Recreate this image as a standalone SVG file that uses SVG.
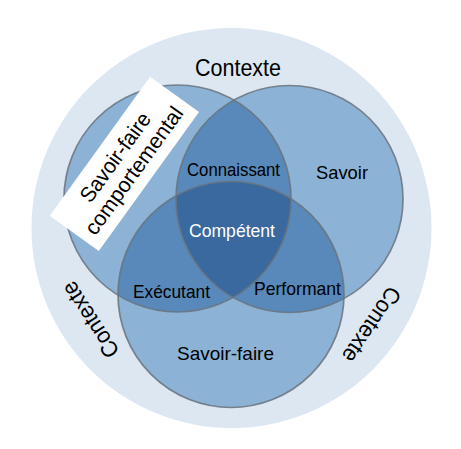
<svg xmlns="http://www.w3.org/2000/svg" width="461" height="449" viewBox="0 0 461 449">
  <style>
    text { font-family: "Liberation Sans", Arial, sans-serif; fill: #000; }
    .big { font-size: 23px; }
    .lbl { font-size: 19px; text-anchor: middle; }
    .ring { fill: none; stroke: #6a737d; stroke-opacity: 0.85; stroke-width: 1.7; }
  </style>
  <defs>
    <clipPath id="cA"><circle cx="177.5" cy="198.5" r="113.5"/></clipPath>
    <clipPath id="cB"><circle cx="289.5" cy="199" r="113.5"/></clipPath>
    <clipPath id="cC"><circle cx="231" cy="294.5" r="113"/></clipPath>
  </defs>

  <g id="contexte">
    <circle cx="231.5" cy="228" r="200" fill="#dce7f2"/>
    <text class="big" x="238" y="76" text-anchor="middle" textLength="86" lengthAdjust="spacingAndGlyphs">Contexte</text>
    <text class="big" text-anchor="middle" transform="translate(90,320) rotate(-123)" dy="0.36em" textLength="86" lengthAdjust="spacingAndGlyphs">Contexte</text>
    <text class="big" text-anchor="middle" transform="translate(372,325) rotate(124)" dy="0.36em" textLength="86" lengthAdjust="spacingAndGlyphs">Contexte</text>
  </g>

  <g id="fills">
    <circle cx="177.5" cy="198.5" r="113.5" fill="#8cb3d5"/>
    <circle cx="289.5" cy="199" r="113.5" fill="#8cb3d5"/>
    <circle cx="231" cy="294.5" r="113" fill="#8cb3d5"/>
    <circle cx="177.5" cy="198.5" r="113.5" fill="#5889ba" clip-path="url(#cB)"/>
    <circle cx="177.5" cy="198.5" r="113.5" fill="#5889ba" clip-path="url(#cC)"/>
    <circle cx="289.5" cy="199" r="113.5" fill="#5889ba" clip-path="url(#cC)"/>
    <g clip-path="url(#cC)">
      <circle cx="177.5" cy="198.5" r="113.5" fill="#39699f" clip-path="url(#cB)"/>
    </g>
  </g>

  <g id="savoir-faire-comportemental">
    <circle class="ring" cx="177.5" cy="198.5" r="113.5"/>
  </g>
  <g id="savoir">
    <circle class="ring" cx="289.5" cy="199" r="113.5"/>
    <text class="lbl" x="342" y="179" textLength="52" lengthAdjust="spacingAndGlyphs">Savoir</text>
  </g>
  <g id="savoir-faire">
    <circle class="ring" cx="231" cy="294.5" r="113"/>
    <text class="lbl" x="225.5" y="360" textLength="97" lengthAdjust="spacingAndGlyphs">Savoir-faire</text>
  </g>

  <g id="box">
    <g transform="translate(124.4,163.8) rotate(-54.2)">
      <rect x="-85.7" y="-30.2" width="171.4" height="60.4" fill="#ffffff"/>
      <text x="0" y="-4" text-anchor="middle" style="font-size:21.5px" textLength="105" lengthAdjust="spacingAndGlyphs">Savoir-faire</text>
      <text x="0" y="19" text-anchor="middle" style="font-size:21.5px" textLength="152" lengthAdjust="spacingAndGlyphs">comportemental</text>
    </g>
  </g>

  <g id="connaissant"><text class="lbl" x="233.5" y="176" textLength="93" lengthAdjust="spacingAndGlyphs">Connaissant</text></g>
  <g id="competent"><text class="lbl" x="232" y="237" style="fill:#ffffff" textLength="86" lengthAdjust="spacingAndGlyphs">Compétent</text></g>
  <g id="executant"><text class="lbl" x="171.5" y="298" textLength="77" lengthAdjust="spacingAndGlyphs">Exécutant</text></g>
  <g id="performant"><text class="lbl" x="297.5" y="295" textLength="87" lengthAdjust="spacingAndGlyphs">Performant</text></g>

  <g id="connectors"></g>
</svg>
